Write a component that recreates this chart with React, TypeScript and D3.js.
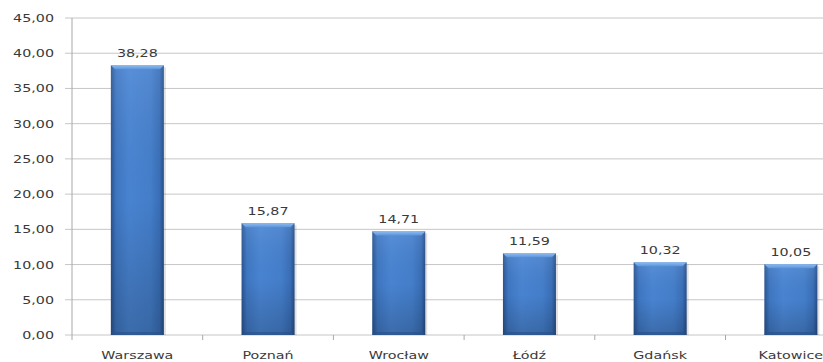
import React from "react";
import * as d3 from "d3";

const categories = ["Warszawa", "Poznań", "Wrocław", "Łódź", "Gdańsk", "Katowice"];
const values = [38.28, 15.87, 14.71, 11.59, 10.32, 10.05];
const yTicks = [0, 5, 10, 15, 20, 25, 30, 35, 40, 45];

const W = 823;
const H = 362;
const left = 72;
const band = 130.7;
const y0 = 335;
const yTop = 18;
const barW = 53;
const SX = 1.3; // horizontal text stretch

const fmt = (v: number) => v.toFixed(2).replace(".", ",");

export default function App() {
  const x = d3
    .scaleBand<string>()
    .domain(categories)
    .range([left, left + band * categories.length])
    .paddingInner(0)
    .paddingOuter(0);
  const y = d3.scaleLinear().domain([0, 45]).range([y0, yTop]);

  const textStyle: React.CSSProperties = {
    fontFamily: "'DejaVu Sans', Verdana, sans-serif",
    fontSize: 11,
    fill: "#3a3a3a",
  };

  return (
    <svg
      width={W}
      height={H}
      style={{ position: "fixed", left: 0, top: 0, background: "#fff" }}
    >
      <defs>
        <linearGradient id="barH" x1="0" x2="1" y1="0" y2="0">
          <stop offset="0" stopColor="#2a5593" />
          <stop offset="0.1" stopColor="#3f78c4" />
          <stop offset="0.35" stopColor="#4a86d5" />
          <stop offset="0.75" stopColor="#4580cd" />
          <stop offset="0.92" stopColor="#3a70ba" />
          <stop offset="1" stopColor="#284f8a" />
        </linearGradient>
        <linearGradient id="barV" x1="0" x2="0" y1="0" y2="1">
          <stop offset="0" stopColor="#ffffff" stopOpacity="0.08" />
          <stop offset="0.5" stopColor="#000000" stopOpacity="0.02" />
          <stop offset="1" stopColor="#000000" stopOpacity="0.2" />
        </linearGradient>
        <linearGradient id="bevel" x1="0" x2="0" y1="0" y2="1">
          <stop offset="0" stopColor="#8fbcf0" />
          <stop offset="1" stopColor="#5b94dc" />
        </linearGradient>
      </defs>

      {/* horizontal gridlines with tick stubs */}
      {yTicks.map((t) => (
        <line
          key={"g" + t}
          x1={left - 7}
          x2={W}
          y1={y(t)}
          y2={y(t)}
          stroke="#c6c6c6"
          strokeWidth={1}
        />
      ))}

      {/* y axis */}
      <line x1={left} x2={left} y1={yTop} y2={y0} stroke="#a8a8a8" strokeWidth={1} />

      {/* category tick marks */}
      {d3.range(categories.length + 1).map((i) => (
        <line
          key={"ct" + i}
          x1={left + band * i}
          x2={left + band * i}
          y1={y0}
          y2={y0 + 5}
          stroke="#a8a8a8"
        />
      ))}

      {/* y tick labels */}
      {yTicks.map((t) => (
        <text
          key={"yl" + t}
          transform={`translate(54,${y(t) + 4}) scale(${SX},1)`}
          textAnchor="end"
          style={textStyle}
        >
          {fmt(t)}
        </text>
      ))}

      {/* bars */}
      {categories.map((c, i) => {
        const cx = (x(c) as number) + x.bandwidth() / 2;
        const bx = cx - barW / 2;
        const by = y(values[i]);
        const bh = y0 - by;
        return (
          <g key={c}>
            <rect x={bx + 2} y={by + 2} width={barW} height={bh - 2} fill="#000" opacity={0.12} />
            <rect x={bx} y={by} width={barW} height={bh} fill="url(#barH)" />
            <rect x={bx} y={by} width={barW} height={bh} fill="url(#barV)" />
            <path
              d={`M${bx},${by} L${bx + barW},${by} L${bx + barW - 4},${by + 4} L${bx + 4},${by + 4} Z`}
              fill="url(#bevel)"
            />
            <path
              d={`M${bx},${by + bh} L${bx + barW},${by + bh} L${bx + barW - 3},${by + bh - 3} L${bx + 3},${by + bh - 3} Z`}
              fill="#2a5088"
              opacity={0.6}
            />
            <text
              transform={`translate(${cx},${by - 8}) scale(${SX},1)`}
              textAnchor="middle"
              style={textStyle}
            >
              {fmt(values[i])}
            </text>
            <text
              transform={`translate(${cx},359) scale(${SX},1)`}
              textAnchor="middle"
              style={textStyle}
            >
              {c}
            </text>
          </g>
        );
      })}
    </svg>
  );
}
